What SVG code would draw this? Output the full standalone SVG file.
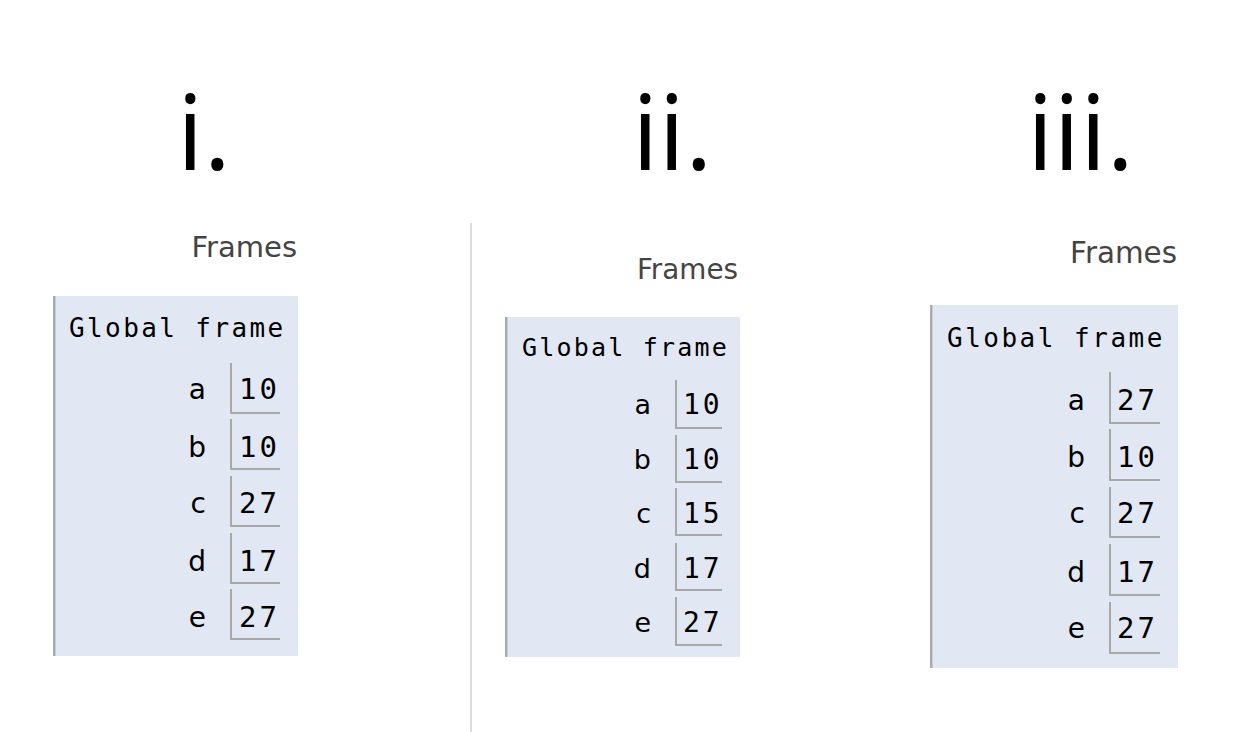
<svg xmlns="http://www.w3.org/2000/svg" width="1260" height="732" viewBox="0 0 1260 732">
<style>
.title{font-family:"Open Sans","Liberation Sans",sans-serif;font-size:105px;fill:#000}
.frames{font-family:"DejaVu Sans","Liberation Sans",sans-serif;fill:#444;text-anchor:end}
.box{fill:#e2e8f3}
.edge{fill:#a6adb0}
.gf{font-family:"DejaVu Sans Mono","Liberation Mono",monospace;fill:#000}
.lbl{font-family:"DejaVu Sans","Liberation Sans",sans-serif;fill:#000;text-anchor:end}
.val{font-family:"DejaVu Sans Mono","Liberation Mono",monospace;fill:#000}
.vb{fill:none;stroke:#a8a8a8;stroke-width:2}
</style>
<rect width="1260" height="732" fill="#fff"/>
<g id="connectors">
<line x1="471" y1="223" x2="471" y2="732" stroke="#dcdcdc" stroke-width="2"/>
</g>
<g id="titles">
<text class="title" x="177" y="170">i.</text>
<text class="title" x="632" y="170">ii.</text>
<text class="title" x="1027" y="170">iii.</text>
</g>
<g id="panel-i">
<text class="frames" x="297" y="257" font-size="29">Frames</text>
<rect class="box" x="53" y="296" width="245" height="360"/>
<rect class="edge" x="53" y="296" width="2.5" height="360"/>
<text class="gf" x="69" y="337" font-size="26" letter-spacing="2.4">Global frame</text>
<g font-size="28">
<text class="lbl" x="206" y="399">a</text>
<text class="lbl" x="206" y="457">b</text>
<text class="lbl" x="206" y="513">c</text>
<text class="lbl" x="206" y="571">d</text>
<text class="lbl" x="206" y="627">e</text>
</g>
<path class="vb" d="M231,363V413H280M231,419V469H280M231,476V526H280M231,533V583H280M231,589V639H280"/>
<g font-size="29" letter-spacing="3">
<text class="val" x="239" y="399">10</text>
<text class="val" x="239" y="457">10</text>
<text class="val" x="239" y="513">27</text>
<text class="val" x="239" y="571">17</text>
<text class="val" x="239" y="627">27</text>
</g>
</g>
<g id="panel-ii">
<text class="frames" x="738" y="279" font-size="27.8">Frames</text>
<rect class="box" x="505" y="317" width="235" height="340"/>
<rect class="edge" x="505" y="317" width="2.5" height="340"/>
<text class="gf" x="522" y="356" font-size="25" letter-spacing="2.2">Global frame</text>
<g font-size="27">
<text class="lbl" x="651" y="414">a</text>
<text class="lbl" x="651" y="469">b</text>
<text class="lbl" x="651" y="523">c</text>
<text class="lbl" x="651" y="578">d</text>
<text class="lbl" x="651" y="632">e</text>
</g>
<path class="vb" d="M676,380V428H722M676,435V482H722M676,488V535H722M676,543V590H722M676,597V645H722"/>
<g font-size="28" letter-spacing="2.8">
<text class="val" x="683" y="414">10</text>
<text class="val" x="683" y="469">10</text>
<text class="val" x="683" y="523">15</text>
<text class="val" x="683" y="578">17</text>
<text class="val" x="683" y="632">27</text>
</g>
</g>
<g id="panel-iii">
<text class="frames" x="1177" y="263" font-size="29.4">Frames</text>
<rect class="box" x="930" y="305" width="248" height="363"/>
<rect class="edge" x="930" y="305" width="2.5" height="363"/>
<text class="gf" x="947" y="347" font-size="26" letter-spacing="2.5">Global frame</text>
<g font-size="28">
<text class="lbl" x="1085" y="410">a</text>
<text class="lbl" x="1085" y="467">b</text>
<text class="lbl" x="1085" y="523">c</text>
<text class="lbl" x="1085" y="582">d</text>
<text class="lbl" x="1085" y="638">e</text>
</g>
<path class="vb" d="M1110,372V423H1160M1110,429V480H1160M1110,487V537H1160M1110,544V595H1160M1110,602V653H1160"/>
<g font-size="29" letter-spacing="3">
<text class="val" x="1117" y="410">27</text>
<text class="val" x="1117" y="467">10</text>
<text class="val" x="1117" y="523">27</text>
<text class="val" x="1117" y="582">17</text>
<text class="val" x="1117" y="638">27</text>
</g>
</g>
</svg>
